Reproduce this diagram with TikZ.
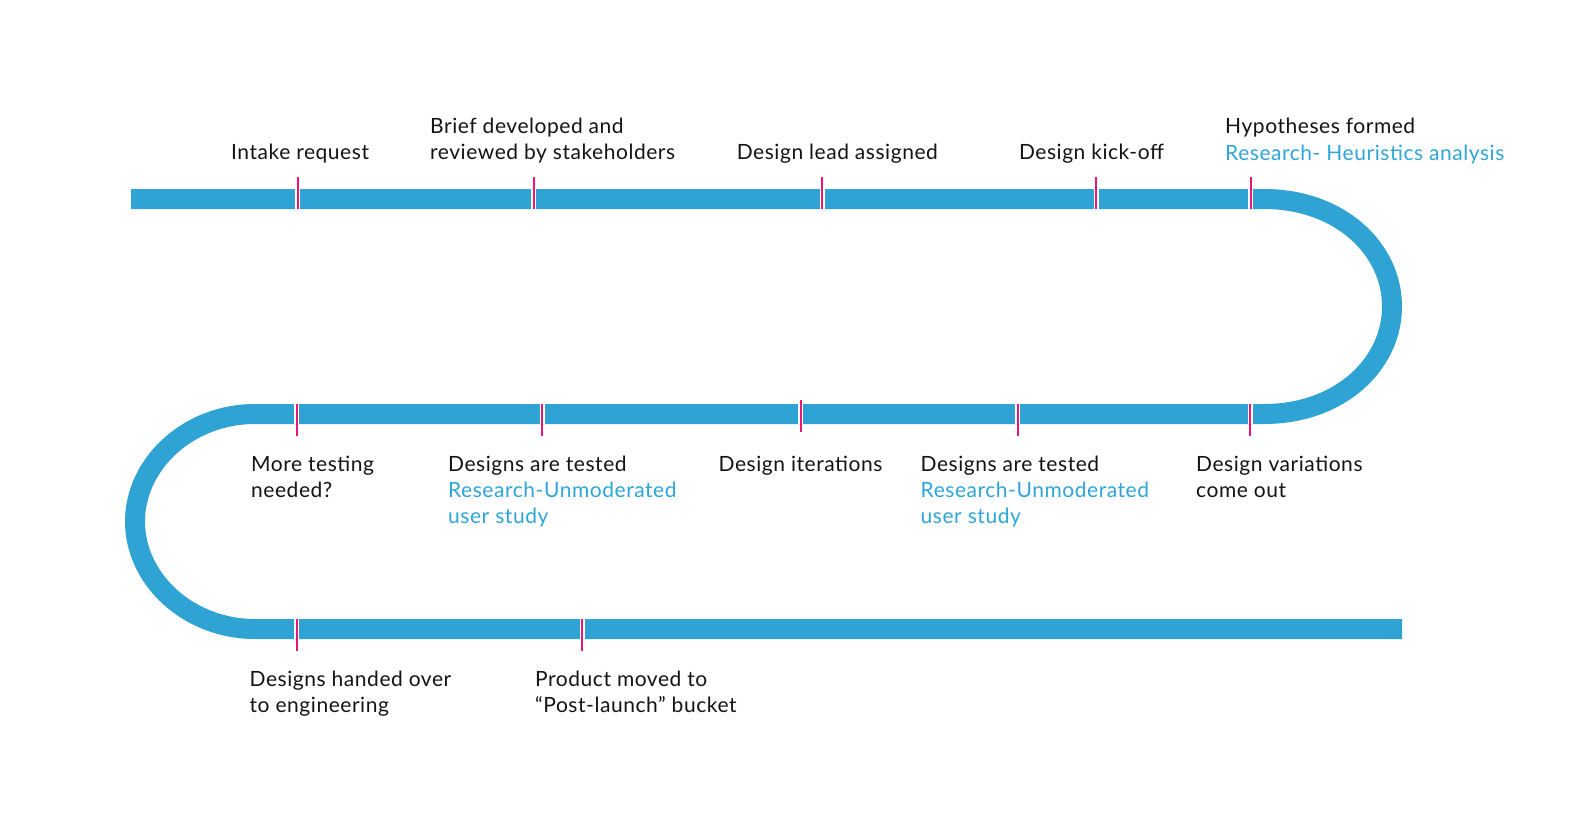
\documentclass[tikz,border=0pt]{standalone}
\usepackage{fontspec}
\setmainfont[LetterSpace=2.6]{Lato}
\definecolor{barblue}{HTML}{2EA3D4}
\definecolor{labelblue}{HTML}{2EA6DA}
\definecolor{tickpink}{HTML}{E5177B}
\definecolor{ink}{HTML}{141414}
\begin{document}
\begin{tikzpicture}[x=1bp,y=-1bp,
  bar/.style={line width=20bp, draw=barblue, line cap=butt, line join=round},
  tickgap/.style={line width=5bp, draw=white},
  tickmark/.style={line width=2bp, draw=tickpink},
  lbl/.style={anchor=base west, inner sep=0pt, align=left, text=ink,
    font=\fontsize{21bp}{26.2bp}\selectfont},
  res/.style={text=labelblue}]
\useasboundingbox[fill=white] (0,0) rectangle (1580,837);
% the winding bar
\draw[bar] (131,199) -- (1264,199)
  .. controls (1340,199) and (1392,249) .. (1392,306.5)
  .. controls (1392,364) and (1340,414) .. (1264,414)
  -- (255,414)
  .. controls (188,414) and (135,464) .. (135,521.5)
  .. controls (135,579) and (188,629) .. (255,629)
  -- (1402,629);
% ticks, top row
\foreach \x in {297.5,533.5,822,1096,1250.7}{
  \draw[tickgap] (\x,189) -- (\x,209);
  \draw[tickmark] (\x,177) -- (\x,209);
}
% ticks, middle row
\foreach \x in {296.7,542,1017.7,1250}{
  \draw[tickgap] (\x,404) -- (\x,424);
  \draw[tickmark] (\x,404) -- (\x,436);
}
\draw[tickgap] (800.7,404) -- (800.7,424);
\draw[tickmark] (800.7,400) -- (800.7,432);
% ticks, bottom row
\foreach \x in {296.7,582}{
  \draw[tickgap] (\x,619) -- (\x,639);
  \draw[tickmark] (\x,619) -- (\x,651);
}
% labels, top row (base anchor = baseline of last line)
\node[lbl] (intake) at (231,159.3) {Intake request};
\node[lbl] (brief) at (430,159.3) {Brief developed and\\reviewed by stakeholders};
\node[lbl] (lead) at (736.6,159.3) {Design lead assigned};
\node[lbl] (kickoff) at (1018.8,159.3) {Design kick-off};
\node[lbl] (hypo) at (1225,160) {Hypotheses formed\\\textcolor{labelblue}{Research- Heuristics analysis}};
% labels, middle row
\node[lbl] (more) at (251,497.5) {More testing\\needed?};
\node[lbl] (tested1) at (448,523.7) {Designs are tested\\\textcolor{labelblue}{Research-Unmoderated}\\\textcolor{labelblue}{user study}};
\node[lbl] (iter) at (718.5,471.3) {Design iterations};
\node[lbl] (tested2) at (920.5,523.7) {Designs are tested\\\textcolor{labelblue}{Research-Unmoderated}\\\textcolor{labelblue}{user study}};
\node[lbl] (variations) at (1196,497.5) {Design variations\\come out};
% labels, bottom row
\node[lbl] (handed) at (249.5,712.3) {Designs handed over\\to engineering};
\node[lbl] (moved) at (535,712.3) {Product moved to\\“Post-launch” bucket};
\end{tikzpicture}
\end{document}
